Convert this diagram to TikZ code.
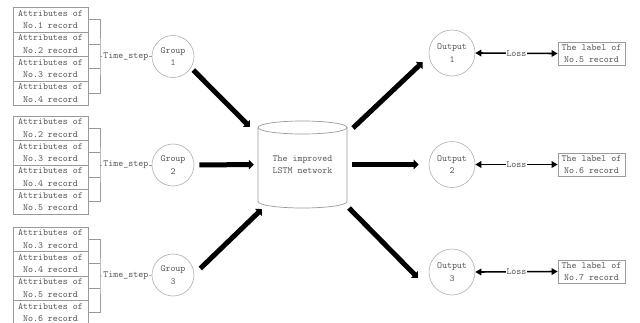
\documentclass[tikz,border=0pt]{standalone}
\usetikzlibrary{arrows.meta,calc}
\definecolor{inkgray}{HTML}{555555}
\definecolor{linegray}{HTML}{9A9A9A}
\tikzset{
  base/.style={font=\ttfamily\fontsize{9.5}{12.5}\selectfont, text=inkgray, align=center, inner sep=0pt},
  record/.style={base, draw=linegray, line width=0.7pt, minimum width=75, minimum height=24.5},
  ring/.style={base, circle, draw=linegray!80, line width=0.6pt, minimum size=42},
  outring/.style={ring, minimum size=46},
  labelbox/.style={record, minimum width=67, minimum height=23},
  bracket/.style={draw=linegray, line width=0.6pt},
  tag/.style={base, fill=white, inner sep=1pt},
  bigarrow/.style={line width=5pt, -{Triangle[width=9.5pt,length=5pt]}},
  lossarrow/.style={line width=1.6pt, {Triangle[width=6.5pt,length=6pt]}-{Triangle[width=6.5pt,length=6pt]}},
}
\begin{document}
\begin{tikzpicture}[x=1pt,y=-1pt]
\useasboundingbox (0,0) rectangle (640,322);
\clip (0,0) rectangle (640,322);

% input windows: four records per group, joined into a time-step bracket
\foreach \g/\yc in {1/56.5, 2/165, 3/276} {
  \foreach \k in {1,...,4} {
    \pgfmathtruncatemacro\recno{\g+\k-1}
    \node[record] (r\g\k) at (50.5, \yc-61.25+24.5*\k) {Attributes of\\No.\recno\ record};
  }
  \coordinate (b\g) at (100,\yc);
  \draw[bracket] (r\g1.east) -| (b\g) |- (r\g4.east);
  \draw[bracket] (r\g2.east) -- (r\g2.east -| b\g);
  \draw[bracket] (r\g3.east) -- (r\g3.east -| b\g);
}
\node[ring] (g1) at (173,56.5) {Group\\1};
\node[ring] (g2) at (173,165) {Group\\2};
\node[ring] (g3) at (173,275) {Group\\3};
\foreach \g in {1,2,3}
  \draw[bracket] (b\g) -- node[tag] {Time\_step} (g\g);

% the network drawn as a cylinder
\node[base, minimum width=89, minimum height=87] (lstm) at (302.5,164.5) {The improved\\LSTM network};
\draw[draw=linegray, line width=0.7pt]
  (258,127.5) -- (258,201.5) arc[start angle=180, end angle=0, x radius=44.5, y radius=6.5] -- (347,127.5);
\draw[draw=linegray, line width=0.7pt] (302.5,127.5) ellipse [x radius=44.5, y radius=6.5];

% outputs and their labels
\node[outring] (o1) at (452,53) {Output\\1};
\node[outring] (o2) at (452,164.5) {Output\\2};
\node[outring] (o3) at (452,272) {Output\\3};
\node[labelbox] (l1) at (591.5,53.5) {The label of\\No.5 record};
\node[labelbox] (l2) at (591.5,164.5) {The label of\\No.6 record};
\node[labelbox] (l3) at (591.5,271.5) {The label of\\No.7 record};

% arrow ends on the cylinder
\coordinate (cin1) at (250,127);
\coordinate (cin3) at (262,209);
\coordinate (cout1) at (353,128);
\coordinate (cout3) at (349,208);
\coordinate (tip3) at (418,278);

\draw[bigarrow, shorten <=3.2pt] (g1.-32) -- (cin1);
\draw[bigarrow, shorten <=5pt, shorten >=4pt] (g2.east) -- (lstm.west);
\draw[bigarrow, shorten <=8.3pt] (g3.2) -- (cin3);
\draw[bigarrow, shorten >=8.5pt] (cout1) -- (o1.188);
\draw[bigarrow, shorten <=5pt, shorten >=10pt] (lstm.east) -- (o2.west);
\draw[bigarrow] (cout3) -- (tip3);

\foreach \i in {1,2,3}
  \draw[lossarrow] (o\i.east) -- node[tag] {Loss} (l\i.west);
\end{tikzpicture}
\end{document}
